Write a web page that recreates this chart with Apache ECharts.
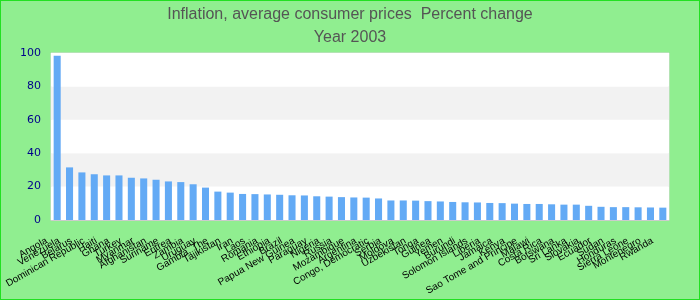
<!DOCTYPE html>
<html>
<head>
<meta charset="utf-8">
<script src="https://cdn.jsdelivr.net/npm/echarts@6/dist/echarts.min.js"></script>
<style>
html,body{margin:0;padding:0;background:#90ee90;}
#chart{width:700px;height:300px;box-sizing:border-box;border:1px solid #22e022;}
</style>
</head>
<body>
<div id="chart"></div>
<script>
const titleLine1 = "Inflation, average consumer prices  Percent change";
const titleLine2 = "Year 2003";
const countries = [
  "Angola","Venezuela","Belarus","Dominican Republic","Haiti","Ghana","Turkey","Myanmar","Afghanistan","Suriname",
  "Eritrea","Zambia","Uruguay","Gambia, The","Tajikistan","Iran","Laos","Romania","Ethiopia","Brazil",
  "Papua New Guinea","Paraguay","Nigeria","Russia","Mozambique","Argentina","Congo, Democratic","Serbia","Moldova","Uzbekistan",
  "Tonga","Guinea","Yemen","Burundi","Solomon Islands","Liberia","Jamaica","Kenya","Sao Tome and Principe","Malawi",
  "Costa Rica","Botswana","Sri Lanka","Slovakia","Ecuador","Sudan","Honduras","Sierra Leone","Montenegro","Rwanda"
];
const inflation = [
  98.3,31.5,28.5,27.4,26.7,26.7,25.3,24.9,24.1,23.1,
  22.7,21.4,19.4,17.0,16.4,15.6,15.5,15.3,15.1,14.8,
  14.7,14.2,14.0,13.7,13.5,13.4,12.9,11.7,11.7,11.6,
  11.3,11.1,10.8,10.6,10.5,10.2,10.1,9.8,9.6,9.6,
  9.4,9.2,9.2,8.5,7.9,7.7,7.7,7.6,7.5,7.4
];
const yTicks = [0,20,40,60,80,100];

const chart = echarts.init(document.getElementById('chart'), null, {renderer:'canvas'});
chart.setOption({
  backgroundColor: '#90ee90',
  animation: false,
  title: {
    text: titleLine1 + "\n" + titleLine2,
    left: 'center',
    top: -3,
    textStyle: {
      fontFamily: 'Liberation Sans Narrow, Arial Narrow, sans-serif',
      fontSize: 16,
      fontWeight: 'normal',
      color: '#555555',
      lineHeight: 23
    }
  },
  grid: {
    left: 50, right: 30, top: 52, bottom: 79,
    containLabel: false,
    outerBoundsMode: 'none',
    show: true,
    backgroundColor: '#ffffff',
    borderColor: '#d8d8d8',
    borderWidth: 1
  },
  xAxis: {
    type: 'category',
    data: countries,
    axisLine: {show: true, lineStyle: {color: '#cccccc'}},
    axisTick: {show: false},
    axisLabel: {
      interval: 0,
      rotate: 30,
      fontSize: 10,
      color: '#000000',
      fontFamily: 'Liberation Sans, Arial, sans-serif',
      margin: 14,
      padding: [0, 12, 0, 0]
    }
  },
  yAxis: {
    type: 'value',
    min: yTicks[0],
    max: yTicks[yTicks.length-1],
    interval: 20,
    axisLine: {show: false},
    axisTick: {show: false},
    splitLine: {show: false},
    splitArea: {show: true, areaStyle: {color: ['#ffffff', '#f2f2f2']}},
    axisLabel: {
      fontSize: 11,
      color: '#00008b',
      margin: 10,
      fontFamily: 'DejaVu Sans, sans-serif'
    }
  },
  series: [{
    type: 'bar',
    data: inflation,
    barCategoryGap: '43%',
    itemStyle: {color: '#63aaf5'}
  }]
});
</script>
</body>
</html>
